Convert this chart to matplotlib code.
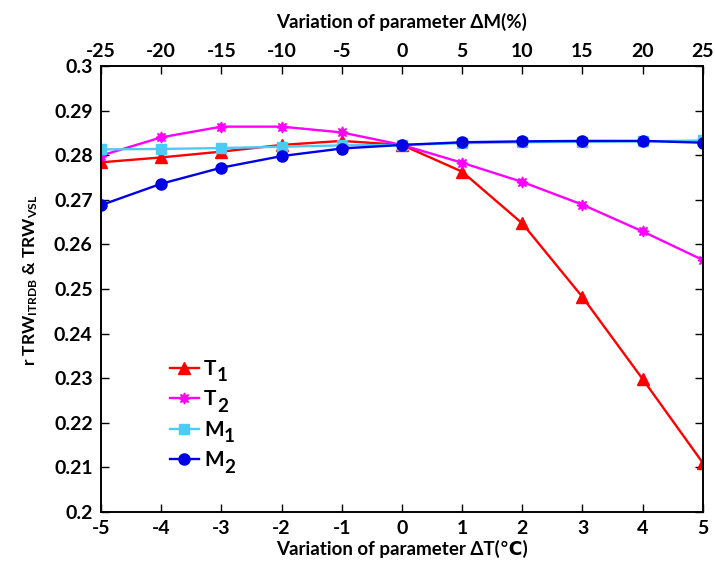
import matplotlib
matplotlib.use("Agg")
import matplotlib.pyplot as plt

plt.rcParams['font.family'] = ['Lato', 'DejaVu Sans']
plt.rcParams['font.weight'] = 'bold'
plt.rcParams['axes.labelweight'] = 'bold'
plt.rcParams['mathtext.fontset'] = 'custom'
plt.rcParams['mathtext.rm'] = 'Lato:bold'
plt.rcParams['mathtext.it'] = 'Lato:bold'
plt.rcParams['mathtext.bf'] = 'Lato:bold'

# Temperature shift (bottom axis) and moisture shift (top axis)
dT = [-5, -4, -3, -2, -1, 0, 1, 2, 3, 4, 5]
dM_ticks = [-25, -20, -15, -10, -5, 0, 5, 10, 15, 20, 25]

# Correlation between TRW_ITRDB and TRW_VSL for each perturbed parameter
T1 = [0.2784, 0.2795, 0.2808, 0.2823, 0.2832, 0.2823,
      0.2763, 0.2647, 0.2482, 0.2298, 0.2110]
T2 = [0.2799, 0.2840, 0.2864, 0.2864, 0.2851, 0.2823,
      0.2783, 0.2740, 0.2689, 0.2629, 0.2565]
M1 = [0.2813, 0.2814, 0.2816, 0.2819, 0.2822, 0.2823,
      0.2827, 0.2829, 0.2830, 0.2831, 0.2833]
M2 = [0.2688, 0.2736, 0.2772, 0.2798, 0.2815, 0.2823,
      0.2829, 0.2831, 0.2832, 0.2832, 0.2828]

series_names = ['T', 'T', 'M', 'M']
series_subs = ['1', '2', '1', '2']

fig = plt.figure(figsize=(7.15, 5.64), dpi=100)
ax = fig.add_axes([0.1413, 0.0922, 0.8417, 0.7908])

styles = [
    dict(color='#FF0000', marker='^', ms=8),
    dict(color='#FF00FF', marker=(8, 1, 0), ms=8),
    dict(color='#4CCBF5', marker='s', ms=7),
    dict(color='#0000E6', marker='o', ms=8),
]
for vals, name, st in zip([T1, T2, M1, M2], series_names, styles):
    ax.plot(dT, vals, lw=1.7, label=name, **st)

ax.set_xlim(-5, 5)
ax.set_ylim(0.2, 0.3)
ax.set_xticks(dT)
ax.set_xticklabels([str(v) for v in dT])
yt = [0.2, 0.21, 0.22, 0.23, 0.24, 0.25, 0.26, 0.27, 0.28, 0.29, 0.3]
ax.set_yticks(yt)
ax.set_yticklabels(['0.2', '0.21', '0.22', '0.23', '0.24', '0.25', '0.26',
                    '0.27', '0.28', '0.29', '0.3'])
ax.tick_params(direction='in', length=6, width=1, labelsize=14,
               right=True, pad=6)
ax.set_xlabel('Variation of parameter ΔT(℃)', fontsize=13.5, labelpad=2)
ax.set_ylabel('r TRW$_{ITRDB}$ & TRW$_{VSL}$', fontsize=12.5, labelpad=6)
ax.yaxis.set_label_coords(-0.102, 0.52)

top = ax.twiny()
top.set_xlim(-25, 25)
top.set_xticks(dM_ticks)
top.set_xticklabels([str(v) for v in dM_ticks])
top.tick_params(direction='in', length=6, width=1, labelsize=14, pad=4)
top.set_xlabel('Variation of parameter ΔM(%)', fontsize=13.5, labelpad=11)

for a in (ax, top):
    for s in a.spines.values():
        s.set_linewidth(1.2)

leg = ax.legend(loc='lower left', bbox_to_anchor=(0.1, 0.075), frameon=False,
                fontsize=15, handlelength=1.4, handletextpad=0.25,
                labelspacing=0.5, borderaxespad=0)

# Large subscripts appended after each legend label, set below the baseline
fig.canvas.draw()
renderer = fig.canvas.get_renderer()
inv = fig.transFigure.inverted()
for txt, sub in zip(leg.get_texts(), series_subs):
    bb = txt.get_window_extent(renderer)
    _, _, lp_d = renderer.get_text_width_height_descent(
        'lp', txt.get_fontproperties(), ismath=False)
    baseline = bb.y0 + lp_d
    x0, y0 = inv.transform((bb.x1 + 0.5, baseline - 6.5))
    fig.text(x0, y0, sub, fontsize=13.5, va='baseline', ha='left')

fig.savefig('out.png', dpi=100)
